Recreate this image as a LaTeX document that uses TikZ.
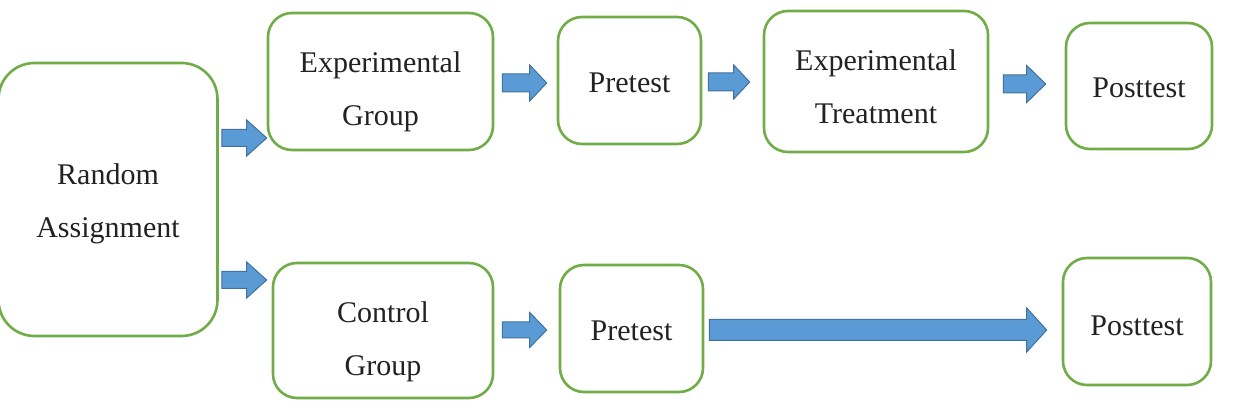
\documentclass[tikz,border=0pt]{standalone}
\usepackage{fontspec}
\setmainfont{Liberation Serif}
\usetikzlibrary{calc}
\definecolor{boxgreen}{HTML}{70AD47}
\definecolor{arrowblue}{HTML}{5B9BD5}
\definecolor{arrowedge}{HTML}{41719C}
\definecolor{txt}{HTML}{222222}
\tikzset{
  stepbox/.style={draw=boxgreen, line width=1.3pt, rounded corners=12pt, fill=white,
    text=txt, inner sep=0pt,
    font=\fontsize{15}{26.5}\selectfont},
  bigbox/.style={stepbox, rounded corners=18pt},
  blockarrow/.style={fill=arrowblue, draw=arrowedge, line width=0.5pt, line join=miter},
}
\newcommand\lines[2]{\raisebox{#1}[\height][\depth]{\begin{tabular}{@{}c@{}}#2\end{tabular}}}
\newcommand\barrow[8]{%
  \path[blockarrow] let \p1=($(#1.east)+(#4,0)$), \p2=($(#2.west)-(#5,0)$), \p3=(0,#3) in
  (\x1,\y3+#6) -- (\x2-#8,\y3+#6) -- (\x2-#8,\y3+#7) -- (\x2,\y3) --
  (\x2-#8,\y3-#7) -- (\x2-#8,\y3-#6) -- (\x1,\y3-#6) -- cycle;}
\begin{document}
\begin{tikzpicture}[x=0.5pt,y=-0.5pt]
\useasboundingbox (0,0) rectangle (1248,411);
\node[bigbox, minimum width=109.5pt, minimum height=136.5pt] (ra) at (108,199.5) {\lines{-0.5pt}{Random\\Assignment}};
\node[stepbox, minimum width=112.5pt, minimum height=68.5pt] (eg) at (380.5,81.5) {\lines{-3.5pt}{Experimental\\Group}};
\node[stepbox, minimum width=71.5pt, minimum height=63.5pt] (pre1) at (629.5,80.5) {\lines{-0.5pt}{Pretest}};
\node[stepbox, minimum width=112pt, minimum height=70.5pt] (et) at (876,81.5) {\lines{-2.5pt}{Experimental\\Treatment}};
\node[stepbox, minimum width=73pt, minimum height=63pt] (post1) at (1139,86) {\lines{-0.5pt}{Posttest}};
\node[stepbox, minimum width=110pt, minimum height=67.5pt] (cg) at (383,330.5) {\lines{-4pt}{Control\\Group}};
\node[stepbox, minimum width=71.5pt, minimum height=63.5pt] (pre2) at (631.5,328.5) {\lines{-0.5pt}{Pretest}};
\node[stepbox, minimum width=74pt, minimum height=63.5pt] (post2) at (1137,321.5) {\lines{-1.5pt}{Posttest}};
\barrow{ra}{eg}{138}{3}{0}{4.25pt}{9pt}{10pt}
\barrow{ra}{cg}{280}{3}{5}{4.25pt}{9pt}{10pt}
\barrow{eg}{pre1}{83}{8}{10}{4.5pt}{9pt}{8.5pt}
\barrow{pre1}{et}{82}{6}{13}{4.5pt}{8.5pt}{8pt}
\barrow{et}{post1}{84}{14}{19}{4.5pt}{9.25pt}{9.5pt}
\barrow{cg}{pre2}{330}{8}{12}{4pt}{8.75pt}{8.5pt}
\barrow{pre2}{post2}{330}{5}{15}{5.25pt}{11pt}{10pt}
\end{tikzpicture}
\end{document}
